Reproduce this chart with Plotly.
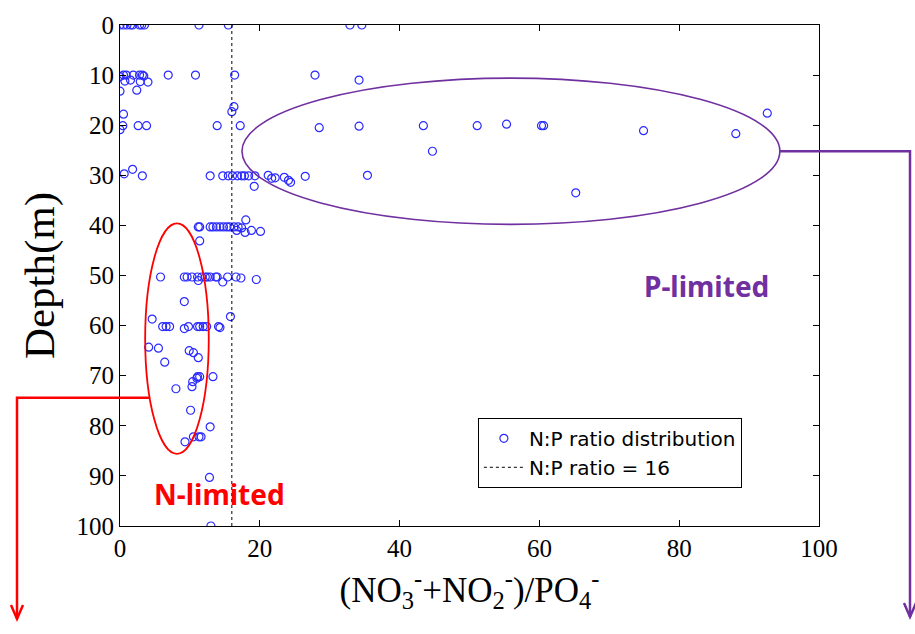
import plotly.graph_objects as go
import math

# ---- data ----
np_ratio = [
    0, 0.5, 1.0, 1.5, 1.8, 2.8, 3.1, 3.5, 11.3, 15.5, 32.9, 34.6,
    0, 0.5, 0.9, 1.9, 2.8, 3.2, 3.4, 6.9, 10.8, 16.4, 27.9,
    0.7, 1.5, 2.9, 4.0, 34.2, 0, 2.4,
    16.3, 16.0, 0.5, 92.6,
    0.4, 2.6, 3.8, 13.9, 17.2, 0, 28.5, 34.2, 43.4, 51.1, 55.3, 60.3, 60.6, 74.9, 88.1,
    44.7, 1.8, 0.6, 3.2,
    12.9, 14.7, 15.5, 16.1, 16.8, 17.4, 17.8, 18.4, 19.3, 21.2, 21.7, 22.2,
    23.5, 24.1, 24.4, 26.5, 35.4, 19.2, 65.2,
    11.2, 11.4, 12.9, 13.3, 13.8, 14.3, 14.8, 15.3, 15.7, 16.3, 16.9,
    17.4, 16.7, 17.9, 18.8, 20.1, 18.0, 11.4,
    5.8, 9.2, 9.6, 10.3, 11.1, 11.7, 12.2, 12.5, 12.9, 13.7, 13.9, 15.4, 16.6, 17.3,
    11.2, 14.7, 19.5,
    9.2, 15.8, 4.6,
    6.1, 6.6, 7.1, 9.2, 9.8, 11.1, 11.4, 11.9, 12.4, 14.1, 14.3,
    4.1, 5.5, 9.9, 10.5, 11.2, 6.4,
    11.1, 11.4, 13.3, 11.0, 10.4, 8.0, 10.3,
    10.1, 12.9, 10.5, 11.3, 11.6, 9.3, 12.8, 13.0,
]
depth_m = [
    0, 0, 0, 0, 0, 0, 0, 0, 0, 0, 0, 0,
    10.3, 10, 10, 10, 10, 10, 10.2, 10, 10, 10, 10,
    11.2, 11, 11.3, 11.4, 11, 13.2, 13,
    16.3, 17.3, 17.8, 17.6,
    20.1, 20.1, 20.1, 20.1, 20.1, 20.9, 20.5, 20.2, 20.1, 20.1, 19.8, 20.1, 20.1, 21.1, 21.7,
    25.2, 28.8, 29.7, 30.1,
    30.1, 30.1, 30.1, 30.1, 30.1, 30.1, 30.1, 30.1, 30.1, 30.0, 30.6, 30.5,
    30.4, 31.0, 31.4, 30.2, 30.0, 32.2, 33.5,
    40.3, 40.3, 40.3, 40.3, 40.3, 40.3, 40.3, 40.3, 40.3, 40.3, 40.3,
    40.5, 41.0, 41.4, 41.0, 41.2, 38.9, 43.1,
    50.3, 50.3, 50.3, 50.3, 50.3, 50.3, 50.3, 50.3, 50.3, 50.3, 50.3, 50.3, 50.3, 50.5,
    51.0, 51.3, 50.8,
    55.2, 58.2, 58.7,
    60.2, 60.2, 60.2, 60.6, 60.2, 60.2, 60.2, 60.2, 60.2, 60.2, 60.4,
    64.3, 64.5, 65.0, 65.4, 66.4, 67.3,
    70.2, 70.2, 70.2, 70.5, 71.2, 72.6, 72.2,
    76.9, 80.2, 82.2, 82.2, 82.2, 83.2, 90.3, 100,
]
redfield_x = [16, 16]
redfield_y = [0, 100]
x_ticks = [0, 20, 40, 60, 80, 100]
y_ticks = [0, 10, 20, 30, 40, 50, 60, 70, 80, 90, 100]

# ellipse regions (data units: x0, x1, depth0, depth1)
p_ellipse = [17.45, 94.4, 10.6, 39.8]
n_ellipse = [3.6, 12.7, 39.6, 85.6]

PURPLE = "#7030A0"
RED = "#FF0000"

W, H = 915, 634
ML, MR, MT, MB = 120, 96, 19, 108
PW, PH = W - ML - MR, H - MT - MB

fig = go.Figure()
fig.add_trace(go.Scatter(
    x=np_ratio, y=depth_m, mode="markers", name="N:P ratio distribution",
    marker=dict(symbol="circle-open", size=8, color="#2a2aFF", line=dict(width=1.2, color="#2a2aFF")),
))
fig.add_trace(go.Scatter(
    x=redfield_x, y=redfield_y, mode="lines", name="N:P ratio = 16",
    line=dict(color="black", dash="dot", width=1),
))

shapes = []
for (x0, x1, y0, y1), col, w in [(p_ellipse, PURPLE, 1.6), (n_ellipse, RED, 1.8)]:
    shapes.append(dict(type="circle", xref="x", yref="y", x0=x0, x1=x1, y0=y0, y1=y1,
                       line=dict(color=col, width=w)))

def px_to_paper(px, py):
    return (px - ML) / PW, (H - MB - py) / PH

def connector(x_start_data, depth_data, x_out_px, tip_py, col):
    xs = x_start_data / 100.0
    ys = 1 - depth_data / 100.0
    xo, _ = px_to_paper(x_out_px, 0)
    _, yt = px_to_paper(0, tip_py)
    shapes.append(dict(type="path", xref="paper", yref="paper",
                       path=f"M {xs},{ys} L {xo},{ys} L {xo},{yt}",
                       line=dict(color=col, width=2.5)))
    dx = 6 / PW
    dy = 14 / PH
    shapes.append(dict(type="path", xref="paper", yref="paper",
                       path=f"M {xo-dx},{yt+dy} L {xo},{yt} L {xo+dx},{yt+dy}",
                       line=dict(color=col, width=2.5)))

# purple: from right end of P ellipse
connector(p_ellipse[1], (p_ellipse[2] + p_ellipse[3]) / 2, 910, 618, PURPLE)
# red: from left edge of N ellipse at depth ~74.4
cx = (n_ellipse[0] + n_ellipse[1]) / 2
rx = (n_ellipse[1] - n_ellipse[0]) / 2
cy = (n_ellipse[2] + n_ellipse[3]) / 2
ry = (n_ellipse[3] - n_ellipse[2]) / 2
d_conn = 74.4
x_edge = cx - rx * math.sqrt(1 - ((d_conn - cy) / ry) ** 2)
connector(x_edge, d_conn, 17, 620, RED)

annotations = [
    dict(x=83.9, y=52.0, xref="x", yref="y", text="<b>P-limited</b>", showarrow=False,
         font=dict(family="Noto Sans", size=28, color=PURPLE)),
    dict(x=14.2, y=93.6, xref="x", yref="y", text="<b>N-limited</b>", showarrow=False,
         font=dict(family="Noto Sans", size=28, color=RED)),
]

axis_common = dict(showline=True, linecolor="black", linewidth=1, mirror="ticks",
                   ticks="inside", ticklen=6, tickcolor="black", showgrid=False, zeroline=False,
                   tickfont=dict(family="Liberation Serif", size=25, color="black"))

fig.update_layout(
    width=W, height=H,
    margin=dict(l=ML, r=MR, t=MT, b=MB),
    paper_bgcolor="white", plot_bgcolor="white",
    xaxis=dict(range=[0, 100], tickvals=x_ticks, **axis_common,
               title=dict(text="(NO<sub>3</sub><sup>-</sup>+NO<sub>2</sub><sup>-</sup>)/PO<sub>4</sub><sup>-</sup>",
                          font=dict(family="Liberation Serif", size=35, color="black"), standoff=16)),
    yaxis=dict(range=[100, 0], tickvals=y_ticks, **axis_common,
               title=dict(text="Depth(m)", font=dict(family="Liberation Serif", size=43, color="black"),
                          standoff=8)),
    legend=dict(x=0.512, y=0.216, xanchor="left", yanchor="top", bgcolor="white",
                bordercolor="black", borderwidth=1, tracegroupgap=0, itemwidth=40,
                font=dict(family="DejaVu Sans", size=20, color="black")),
    shapes=shapes,
    annotations=annotations,
)

fig.write_html("out.html")
